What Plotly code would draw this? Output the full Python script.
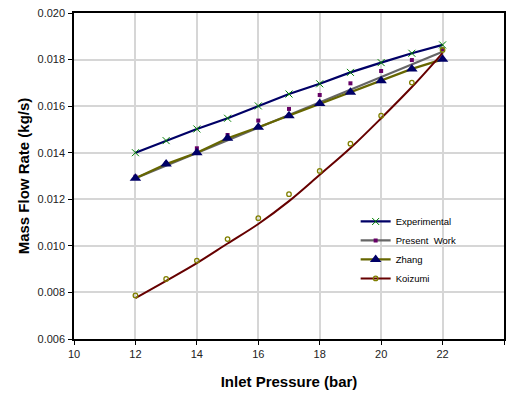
import plotly.graph_objects as go

pressure = [12, 13, 14, 15, 16, 17, 18, 19, 20, 21, 22]
experimental = [0.01400, 0.01452, 0.01502, 0.01548, 0.01601, 0.01652, 0.01696, 0.01745, 0.01787, 0.01827, 0.01863]
present_work = [0.01297, 0.01354, 0.01419, 0.01476, 0.01538, 0.01588, 0.01648, 0.01698, 0.01751, 0.01798, 0.01844]
present_fit_x = [12, 22]
present_fit = [0.01290, 0.01834]
zhang = [0.01290, 0.01351, 0.01400, 0.01462, 0.01509, 0.01559, 0.01611, 0.01660, 0.01709, 0.01760, 0.01801]
koizumi = [0.00787, 0.00858, 0.00937, 0.01029, 0.01119, 0.01222, 0.01322, 0.01439, 0.01559, 0.01701, 0.01841]
koizumi_fit = [0.00776, 0.00850, 0.00926, 0.01010, 0.01094, 0.01192, 0.01305, 0.01420, 0.01548, 0.01682, 0.01828]

x_ticks = [10, 12, 14, 16, 18, 20, 22, 24]
y_ticks = [0.006, 0.008, 0.010, 0.012, 0.014, 0.016, 0.018, 0.020]

NAVY = "#000066"
GRAY = "#666666"
OLIVE = "#666600"
DRED = "#660000"
PURPLE = "#660066"
GREEN = "#008000"

fig = go.Figure()

# data traces (no legend)
fig.add_trace(go.Scatter(x=present_fit_x, y=present_fit, mode="lines",
                         line=dict(color=GRAY, width=2.2), showlegend=False, hoverinfo="skip"))
fig.add_trace(go.Scatter(x=pressure, y=present_work, mode="markers",
                         marker=dict(symbol="square", size=4, color=PURPLE), showlegend=False))
fig.add_trace(go.Scatter(x=pressure, y=zhang, mode="lines",
                         line=dict(color=OLIVE, width=2.2), showlegend=False))
fig.add_trace(go.Scatter(x=pressure, y=koizumi_fit, mode="lines", line_shape="spline",
                         line=dict(color=DRED, width=2), showlegend=False, hoverinfo="skip"))
fig.add_trace(go.Scatter(x=pressure, y=koizumi, mode="markers",
                         marker=dict(symbol="circle-open", size=4.5, color="#808000",
                                     line=dict(width=1.3, color="#666600")), showlegend=False))
fig.add_trace(go.Scatter(x=pressure, y=experimental, mode="lines+markers",
                         line=dict(color=NAVY, width=2.2),
                         marker=dict(symbol="x-thin-open", size=7, line=dict(width=1, color=GREEN), color=GREEN),
                         showlegend=False))
fig.add_trace(go.Scatter(x=pressure, y=zhang, mode="markers",
                         marker=dict(symbol="triangle-up", size=10, color=NAVY), showlegend=False))

# legend entries
fig.add_trace(go.Scatter(x=[None], y=[None], mode="lines+markers", name="Experimental",
                         line=dict(color=NAVY, width=2.2),
                         marker=dict(symbol="x-thin-open", size=7, line=dict(width=1, color=GREEN), color=GREEN)))
fig.add_trace(go.Scatter(x=[None], y=[None], mode="lines+markers", name="Present  Work",
                         line=dict(color=GRAY, width=2.2),
                         marker=dict(symbol="square", size=4, color=PURPLE)))
fig.add_trace(go.Scatter(x=[None], y=[None], mode="lines+markers", name="Zhang",
                         line=dict(color=OLIVE, width=2.2),
                         marker=dict(symbol="triangle-up", size=10, color=NAVY)))
fig.add_trace(go.Scatter(x=[None], y=[None], mode="lines+markers", name="Koizumi",
                         line=dict(color=DRED, width=2),
                         marker=dict(symbol="circle-open", size=4.5, color="#808000",
                                     line=dict(width=1.3, color="#666600"))))

fig.update_layout(
    width=507, height=396,
    margin=dict(l=74, r=1, t=13, b=57),
    paper_bgcolor="white", plot_bgcolor="white",
    font=dict(family="Liberation Sans, Arial, sans-serif", color="#000000"),
    legend=dict(x=0.655, y=0.405, xanchor="left", yanchor="top",
                bgcolor="rgba(0,0,0,0)", font=dict(size=9.5, color="#000000"),
                tracegroupgap=0),
)
fig.update_xaxes(
    range=[10, 24], tickvals=x_ticks, ticktext=[str(v) for v in x_ticks],
    showgrid=True, gridcolor="#d6d6d6", gridwidth=1.5,
    showline=True, linecolor="#000000", linewidth=1.5, mirror=True,
    ticks="outside", ticklen=4, tickcolor="#000000", tickwidth=1,
    tickfont=dict(size=11, color="#222222"),
    zeroline=False,
    title=dict(text="<b>Inlet Pressure (bar)</b>", font=dict(size=15, color="#000000"), standoff=18),
)
fig.update_yaxes(
    range=[0.006, 0.020], tickvals=y_ticks, tickformat=".3f",
    showgrid=True, gridcolor="#d6d6d6", gridwidth=1.5,
    showline=True, linecolor="#000000", linewidth=1.5, mirror=True,
    ticks="outside", ticklen=4, tickcolor="#000000", tickwidth=1,
    tickfont=dict(size=11, color="#222222"),
    ticklabelstandoff=1,
    zeroline=False,
    title=dict(text="<b>Mass Flow Rate (kg/s)</b>", font=dict(size=15, color="#000000"), standoff=4),
)

fig.write_html("out.html")
